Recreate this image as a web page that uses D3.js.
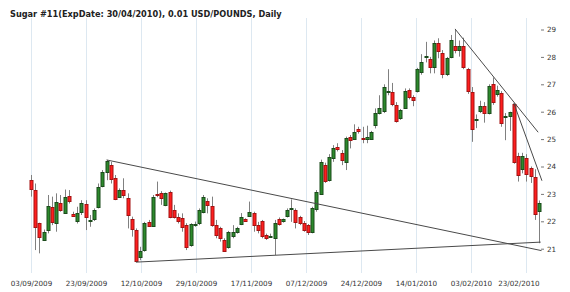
<!DOCTYPE html>
<html>
<head>
<meta charset="utf-8">
<script src="https://cdn.jsdelivr.net/npm/d3@7/dist/d3.min.js"></script>
<style>
body { margin: 0; background: #fff; }
svg { display: block; font-family: "DejaVu Sans", Verdana, sans-serif; }
</style>
</head>
<body>
<div id="chart"></div>
<script>
"use strict";

// daily bars, 03/09/2009 onwards (one entry per trading day)
const openVals = [
  23.50, 23.16, 21.92, 21.31, 21.68, 22.53, 21.95, 22.65, 22.31, 22.92,
  22.25, 21.98, 22.35, 22.63, 22.05, 22.07, 22.51, 23.29, 23.81, 24.05,
  23.57, 22.92, 23.16, 22.86, 22.07, 21.70, 20.68, 20.93, 21.99, 21.83,
  22.99, 23.05, 22.59, 23.08, 22.41, 22.17, 22.11, 21.86, 21.13, 21.89,
  21.93, 22.35, 22.74, 22.56, 21.86, 21.74, 21.32, 21.07, 21.46, 21.62,
  21.90, 22.08, 22.19, 22.29, 21.86, 22.01, 21.50, 21.46, 21.41, 22.07,
  21.98, 22.19, 22.47, 22.41, 22.17, 21.95, 21.86, 21.58, 22.47, 23.02,
  24.06, 23.51, 24.30, 24.72, 24.48, 24.17, 25.09, 25.03, 25.36, 25.05,
  25.03, 25.03, 25.51, 25.94, 26.00, 26.72, 26.71, 26.24, 25.76, 26.16,
  26.79, 26.52, 26.73, 27.42, 28.02, 27.91, 27.64, 28.50, 28.13, 27.40,
  28.01, 28.41, 28.25, 28.41, 27.55, 26.73, 25.74, 26.02, 26.21, 25.96,
  27.00, 26.63, 26.67, 25.84, 25.82, 26.27, 24.39, 23.91, 24.32, 23.93,
  23.63, 22.37
];
const highVals = [
  23.69, 23.38, 21.95, 21.70, 22.96, 22.90, 23.02, 22.96, 23.16, 23.14,
  22.35, 22.53, 22.77, 22.77, 22.23, 22.47, 23.38, 23.87, 24.24, 24.17,
  23.69, 23.20, 23.57, 23.02, 22.17, 21.74, 21.07, 21.98, 22.05, 22.96,
  23.45, 23.10, 23.05, 23.12, 22.60, 22.29, 22.29, 21.93, 21.93, 21.99,
  22.47, 22.96, 22.84, 22.90, 22.05, 21.80, 21.38, 21.65, 21.86, 21.80,
  22.30, 22.11, 22.72, 22.35, 21.98, 22.05, 21.55, 21.55, 22.05, 22.14,
  22.10, 22.47, 22.80, 22.47, 22.20, 22.01, 21.90, 22.53, 23.14, 24.25,
  24.14, 24.45, 24.78, 24.85, 24.60, 25.09, 25.15, 25.54, 25.45, 25.45,
  25.49, 25.30, 26.12, 26.60, 27.00, 27.55, 27.05, 26.35, 26.10, 26.85,
  26.85, 26.60, 27.60, 28.10, 28.55, 28.00, 28.60, 28.68, 28.25, 28.00,
  28.80, 29.02, 28.60, 28.70, 27.60, 26.90, 25.90, 26.40, 26.35, 27.00,
  27.25, 26.95, 26.75, 25.95, 26.00, 26.31, 24.50, 24.50, 24.45, 24.00,
  23.90, 22.76
];
const lowVals = [
  22.90, 20.95, 20.83, 21.28, 21.56, 21.86, 21.62, 22.35, 22.29, 22.65,
  22.16, 21.92, 22.23, 21.68, 21.80, 22.01, 22.47, 23.24, 23.50, 23.38,
  22.77, 22.90, 22.84, 21.74, 21.44, 20.51, 20.58, 20.89, 21.80, 21.80,
  22.88, 22.60, 22.55, 22.11, 22.10, 21.92, 21.62, 20.95, 21.07, 21.80,
  21.86, 22.29, 22.29, 21.80, 21.38, 21.26, 20.89, 21.00, 21.38, 21.55,
  21.86, 21.98, 22.17, 21.62, 21.56, 21.38, 21.32, 21.40, 20.77, 21.84,
  21.95, 22.14, 21.98, 21.74, 21.86, 21.62, 21.50, 21.56, 22.35, 22.96,
  23.40, 23.45, 24.17, 24.55, 24.05, 23.87, 24.66, 24.97, 25.20, 24.85,
  24.85, 25.00, 25.39, 25.90, 25.95, 26.60, 26.20, 25.60, 25.70, 26.10,
  26.45, 26.20, 26.70, 27.35, 27.80, 27.40, 27.40, 27.95, 27.22, 27.30,
  27.95, 28.13, 28.01, 27.55, 26.65, 24.90, 25.40, 25.95, 25.60, 25.90,
  26.25, 26.55, 25.45, 24.96, 25.30, 24.10, 23.45, 23.75, 23.45, 23.40,
  22.05, 21.20
];
const closeVals = [
  23.16, 21.80, 21.41, 21.62, 22.56, 21.98, 22.71, 22.41, 22.90, 22.75,
  22.18, 22.29, 22.68, 22.17, 22.06, 22.41, 23.24, 23.81, 24.20, 23.53,
  22.80, 23.16, 22.96, 22.23, 21.70, 20.56, 20.91, 21.92, 21.86, 22.90,
  22.96, 22.85, 23.02, 22.17, 22.17, 22.02, 21.78, 21.07, 21.89, 21.90,
  22.41, 22.90, 22.59, 21.86, 21.50, 21.38, 20.93, 21.60, 21.62, 21.77,
  22.14, 22.02, 22.35, 21.86, 21.68, 21.46, 21.38, 21.47, 21.95, 21.90,
  22.07, 22.41, 22.48, 21.98, 21.95, 21.68, 21.62, 22.47, 23.08, 24.18,
  23.48, 24.36, 24.66, 24.63, 24.21, 25.03, 24.97, 25.27, 25.27, 25.01,
  25.09, 25.27, 25.94, 26.12, 26.89, 26.74, 26.28, 25.67, 26.06, 26.77,
  26.55, 26.40, 27.55, 27.80, 28.04, 27.62, 28.52, 28.19, 27.38, 27.97,
  28.62, 28.25, 28.41, 27.64, 26.73, 25.39, 25.75, 26.21, 25.94, 26.94,
  26.34, 26.79, 25.57, 25.86, 25.98, 24.15, 23.71, 24.39, 23.75, 23.63,
  22.29, 22.65
];

const dateLabels = ["03/09/2009", "23/09/2009", "12/10/2009", "29/10/2009", "17/11/2009",
                    "07/12/2009", "24/12/2009", "14/01/2010", "03/02/2010", "23/02/2010"];
const labelStep = 13.1;   // bars between date labels
const priceTicks = [21, 22, 23, 24, 25, 26, 27, 28, 29];

// drawn trend lines, as [bar index, price] pairs
const trendLines = [
  [[18, 24.24], [121.6, 20.93]],
  [[25, 20.51], [121.4, 21.24]],
  [[101, 29.02], [120.8, 25.25]],
  [[115, 26.31], [121.7, 23.48]]
];

const W = 570, H = 292;
const bars = openVals.map((o, i) => ({i: i, o: o, h: highVals[i], l: lowVals[i], c: closeVals[i]}));

const svg = d3.select("#chart").append("svg")
  .attr("width", W).attr("height", H);

const x = d3.scaleLinear().domain([0, bars.length - 1]).range([31, 539]);
const y = d3.scaleLinear().domain([21, 29]).range([248.7, 29.5]);

// title
svg.append("text")
  .attr("x", 10).attr("y", 17)
  .attr("font-size", "8.2px").attr("font-weight", "bold").attr("fill", "#222")
  .text("Sugar #11(ExpDate: 30/04/2010), 0.01 USD/POUNDS, Daily");

const tickIdx = dateLabels.map((d, k) => k * labelStep);

// vertical grid
svg.append("g").selectAll("line")
  .data(tickIdx).join("line")
  .attr("x1", d => Math.round(x(d)) + 0.5).attr("x2", d => Math.round(x(d)) + 0.5)
  .attr("y1", 18).attr("y2", 273)
  .attr("stroke", "#dde8f1").attr("stroke-width", 1);

// date axis
const xAxis = svg.append("g")
  .attr("transform", "translate(0,278)")
  .call(d3.axisBottom(x).tickValues(tickIdx).tickSize(0).tickPadding(3)
    .tickFormat((d, k) => dateLabels[k]));
xAxis.select(".domain").remove();
xAxis.selectAll("text")
  .attr("font-size", "7.2px").attr("fill", "#333").attr("font-family", "DejaVu Sans, Verdana, sans-serif")
  .each(function() {
    // keep the last label inside the plot
    const box = this.getBBox();
    const t = d3.select(this.parentNode).attr("transform");
    const tx = +t.match(/translate\(([-\d.]+)/)[1];
    const over = tx + box.x + box.width - 540;
    if (over > 0) d3.select(this).attr("x", -over);
  });

// price axis on the right
const yAxis = svg.append("g")
  .attr("transform", "translate(541,0)")
  .call(d3.axisRight(y).tickValues(priceTicks).tickSize(3).tickPadding(3).tickFormat(d3.format("d")));
yAxis.select(".domain").remove();
yAxis.selectAll("line").attr("stroke", "#777");
yAxis.selectAll("text")
  .attr("font-size", "7.2px").attr("fill", "#333").attr("font-family", "DejaVu Sans, Verdana, sans-serif");

// candles
const candle = svg.append("g").selectAll("g")
  .data(bars).join("g");

candle.append("line")
  .attr("x1", d => Math.round(x(d.i)) + 0.5).attr("x2", d => Math.round(x(d.i)) + 0.5)
  .attr("y1", d => y(d.h)).attr("y2", d => y(d.l))
  .attr("stroke", "#808080").attr("stroke-width", 1);

candle.append("rect")
  .attr("x", d => Math.round(x(d.i)) - 1)
  .attr("width", 3)
  .attr("y", d => Math.round(y(Math.max(d.o, d.c))) + 0.5)
  .attr("height", d => Math.max(1, Math.round(Math.abs(y(d.o) - y(d.c)))))
  .attr("fill", d => d.c >= d.o ? "#2c8a2c" : "#ff1e1e")
  .attr("stroke", d => d.c >= d.o ? "#1b4a1b" : "#a31212")
  .attr("stroke-width", 1);

// trend lines
svg.append("g").selectAll("path")
  .data(trendLines).join("path")
  .attr("d", d3.line().x(p => x(p[0])).y(p => y(p[1])))
  .attr("fill", "none").attr("stroke", "#4a4a4a").attr("stroke-width", 1);
</script>
</body>
</html>
